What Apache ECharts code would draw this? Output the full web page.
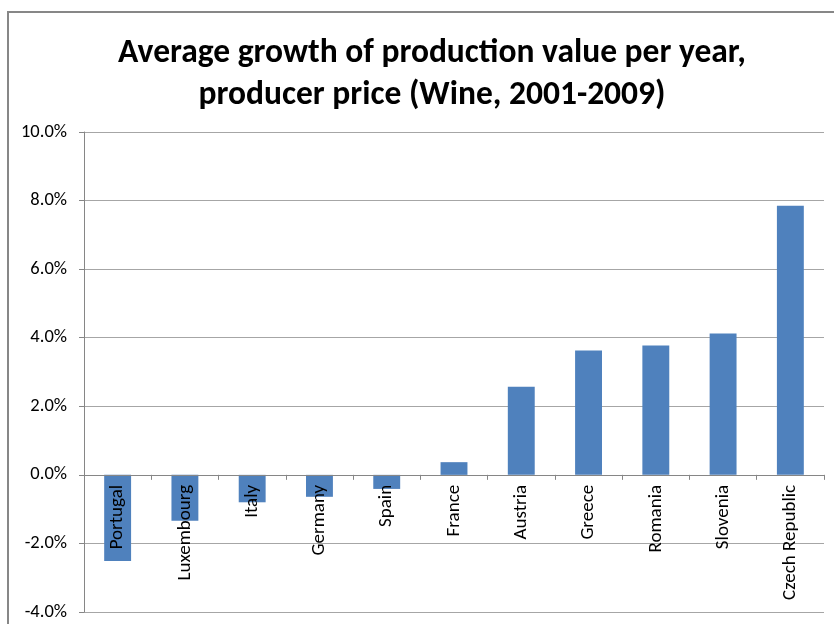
<!DOCTYPE html>
<html>
<head>
<meta charset="utf-8">
<script src="https://cdn.jsdelivr.net/npm/echarts@6/dist/echarts.min.js"></script>
<style>
html,body{margin:0;padding:0;background:#fff;}
#chart{width:834px;height:624px;}
</style>
</head>
<body>
<div id="chart"></div>
<script>
var categories = ['Portugal','Luxembourg','Italy','Germany','Spain','France','Austria','Greece','Romania','Slovenia','Czech Republic'];
var values = [-2.51, -1.34, -0.80, -0.64, -0.41, 0.37, 2.57, 3.63, 3.77, 4.12, 7.85];
var yMin = -4, yMax = 10, yStep = 2;

var font = 'Carlito, Calibri, Lato, "Open Sans", sans-serif';
var gridTop = 132, gridBottom = 12, chartH = 624;
var plotH = chartH - gridTop - gridBottom;
var zeroOffset = plotH * (0 - yMin) / (yMax - yMin);

var chart = echarts.init(document.getElementById('chart'));
chart.setOption({
  backgroundColor: '#fff',
  animation: false,
  title: {
    text: 'Average growth of production value per year,\nproducer price (Wine, 2001-2009)',
    left: 427,
    textAlign: 'center',
    top: 28,
    textStyle: {fontFamily: font, fontSize: 33.5, fontWeight: 'bold', color: '#000', lineHeight: 42}
  },
  graphic: [{
    type: 'rect', silent: true,
    shape: {x: 8, y: 12, width: 1000, height: 1000},
    style: {fill: 'none', stroke: '#878787', lineWidth: 2}
  }],
  grid: {left: 84, right: 10, top: gridTop, bottom: gridBottom, containLabel: false, outerBoundsMode: 'none'},
  xAxis: {
    type: 'category',
    data: categories,
    offset: -zeroOffset,
    z: 5,
    axisLine: {onZero: false, lineStyle: {color: '#868686', width: 1}},
    axisTick: {show: true, length: 5, lineStyle: {color: '#868686'}},
    axisLabel: {rotate: 90, margin: 10, fontFamily: font, fontSize: 19, color: '#000'},
    splitLine: {show: false}
  },
  yAxis: {
    type: 'value',
    min: yMin, max: yMax, interval: yStep,
    axisLine: {show: true, lineStyle: {color: '#868686', width: 1}},
    axisTick: {show: true, length: 5, lineStyle: {color: '#868686'}},
    axisLabel: {formatter: function(v){return v.toFixed(1)+'%';}, margin: 17, fontFamily: font, fontSize: 18.5, color: '#000'},
    splitLine: {show: true, lineStyle: {color: '#a6a6a6', width: 1}}
  },
  series: [{
    type: 'bar',
    data: values,
    barWidth: '40%',
    itemStyle: {color: '#4F81BD'}
  }]
});
</script>
</body>
</html>
